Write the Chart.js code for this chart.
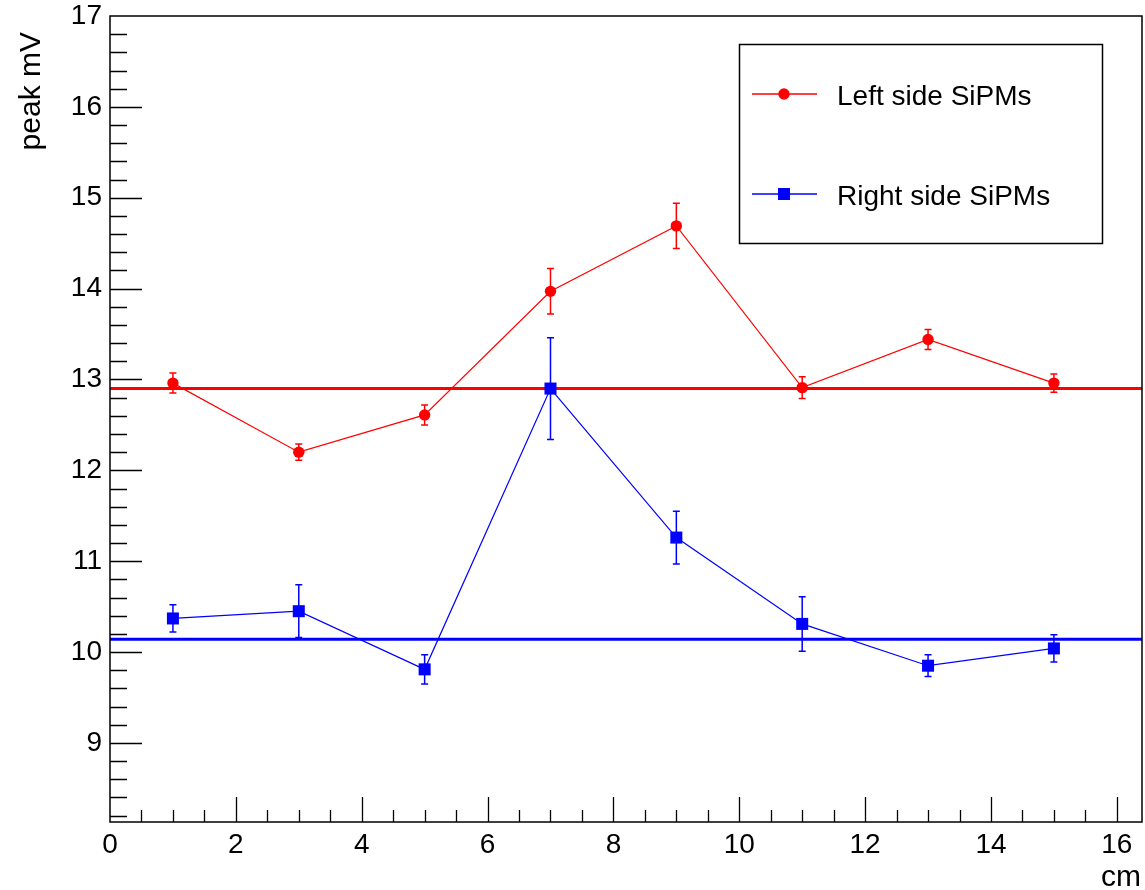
<!DOCTYPE html>
<html>
<head>
<meta charset="utf-8">
<script src="https://cdn.jsdelivr.net/npm/chart.js@4.4.1/dist/chart.umd.min.js"></script>
<style>
html, body { margin: 0; padding: 0; background: #fff; }
</style>
</head>
<body>
<canvas id="canvas1" width="1145" height="890"></canvas>
<script>
// scan positions along the bar (cm)
const positions = [1, 3, 5, 7, 9, 11, 13, 15];

// left side SiPMs: peak amplitude (mV) and its error
const leftPeak = [12.96, 12.20, 12.61, 13.97, 14.69, 12.91, 13.44, 12.96];
const leftErr = [0.11, 0.09, 0.11, 0.25, 0.25, 0.12, 0.11, 0.10];
const leftFit = 12.90;

// right side SiPMs
const rightPeak = [10.37, 10.45, 9.81, 12.90, 11.26, 10.31, 9.85, 10.04];
const rightErr = [0.15, 0.29, 0.16, 0.56, 0.29, 0.30, 0.12, 0.15];
const rightFit = 10.14;

// axis ranges and labelled ticks
const xRange = [0, 16.4];
const yRange = [8.13, 17];
const xTicks = [0, 2, 4, 6, 8, 10, 12, 14, 16];
const yTicks = [9, 10, 11, 12, 13, 14, 15, 16, 17];

const FONT = '"Liberation Sans", Arial, Helvetica, sans-serif';

function points(ys) {
    return positions.map((x, i) => ({x: x, y: ys[i]}));
}

const leftSide = {
    label: 'Left side SiPMs',
    data: points(leftPeak),
    errors: leftErr,
    showLine: true,
    borderColor: 'rgb(255,0,0)',
    backgroundColor: 'rgb(255,0,0)',
    borderWidth: 1.2,
    pointStyle: 'circle',
    pointRadius: 5.7,
    pointBorderWidth: 0,
    order: 1
};

const rightSide = {
    label: 'Right side SiPMs',
    data: points(rightPeak),
    errors: rightErr,
    showLine: true,
    borderColor: 'rgb(0,0,255)',
    backgroundColor: 'rgb(0,0,255)',
    borderWidth: 1.2,
    pointStyle: 'rect',
    pointRadius: 8.5,
    pointBorderWidth: 0,
    order: 0
};

// constant fits, drawn across the whole frame
const leftFitLine = {
    label: 'left fit',
    data: xRange.map(x => ({x: x, y: leftFit})),
    showLine: true,
    borderColor: 'rgb(255,0,0)',
    borderWidth: 3,
    pointRadius: 0,
    order: 3
};

const rightFitLine = {
    label: 'right fit',
    data: xRange.map(x => ({x: x, y: rightFit})),
    showLine: true,
    borderColor: 'rgb(0,0,255)',
    borderWidth: 3,
    pointRadius: 0,
    order: 3
};

// vertical error bars with small caps
const errorBars = {
    id: 'errorBars',
    afterDatasetsDraw(chart) {
        const c = chart.ctx;
        const ys = chart.scales.y;
        chart.data.datasets.forEach((ds, i) => {
            if (!ds.errors) return;
            const meta = chart.getDatasetMeta(i);
            c.save();
            c.strokeStyle = ds.borderColor;
            c.lineWidth = 1.5;
            meta.data.forEach((pt, j) => {
                const v = ds.data[j].y;
                const top = ys.getPixelForValue(v + ds.errors[j]);
                const bot = ys.getPixelForValue(v - ds.errors[j]);
                c.beginPath();
                c.moveTo(pt.x, top);
                c.lineTo(pt.x, bot);
                c.moveTo(pt.x - 3.5, top);
                c.lineTo(pt.x + 3.5, top);
                c.moveTo(pt.x - 3.5, bot);
                c.lineTo(pt.x + 3.5, bot);
                c.stroke();
            });
            c.restore();
        });
    }
};

// frame, inward ticks and axis titles
const frame = {
    id: 'frame',
    afterDraw(chart) {
        const c = chart.ctx;
        const a = chart.chartArea;
        const xs = chart.scales.x;
        const ys = chart.scales.y;
        c.save();
        c.strokeStyle = '#000';
        c.lineWidth = 1.5;
        c.strokeRect(a.left, a.top, a.right - a.left, a.bottom - a.top);

        c.beginPath();
        c.lineWidth = 1.3;
        for (let v = 0.5; v <= xRange[1]; v += 0.5) {
            const px = Math.round(xs.getPixelForValue(v)) + 0.5;
            const len = xTicks.includes(v) ? 25 : 12;
            c.moveTo(px, a.bottom);
            c.lineTo(px, a.bottom - len);
        }
        for (let k = Math.ceil(yRange[0] * 5); k < yRange[1] * 5; k++) {
            const v = k / 5;
            const py = Math.round(ys.getPixelForValue(v)) + 0.5;
            const len = (k % 5 === 0) ? 32 : 17;
            c.moveTo(a.left, py);
            c.lineTo(a.left + len, py);
        }
        c.stroke();

        c.fillStyle = '#000';
        c.font = '30px ' + FONT;
        c.textAlign = 'right';
        c.textBaseline = 'alphabetic';
        c.fillText('cm', a.right - 1, 886);

        c.translate(40, 32);
        c.rotate(-Math.PI / 2);
        c.fillText('peak mV', 0, 0);
        c.restore();
    }
};

// boxed legend in the upper right corner
const rootLegend = {
    id: 'rootLegend',
    afterDraw(chart) {
        const c = chart.ctx;
        c.save();
        c.fillStyle = '#fff';
        c.fillRect(739.5, 44.5, 363, 199);
        c.strokeStyle = '#000';
        c.lineWidth = 1.5;
        c.strokeRect(739.5, 44.5, 363, 199);
        const rows = [[leftSide, 94], [rightSide, 194]];
        rows.forEach(([ds, y]) => {
            c.strokeStyle = ds.borderColor;
            c.lineWidth = 1.5;
            c.beginPath();
            c.moveTo(752, y);
            c.lineTo(817, y);
            c.stroke();
            c.fillStyle = ds.backgroundColor;
            Chart.helpers.drawPoint(c, {
                pointStyle: ds.pointStyle,
                radius: ds.pointRadius,
                rotation: 0,
                borderWidth: 0
            }, 784, y);
            c.fillStyle = '#000';
            c.font = '28px ' + FONT;
            c.textAlign = 'left';
            c.textBaseline = 'alphabetic';
            c.fillText(ds.label, 837, y + 11);
        });
        c.restore();
    }
};

const chartPeaks = new Chart(document.getElementById('canvas1'), {
    type: 'scatter',
    data: {
        datasets: [rightSide, leftSide, leftFitLine, rightFitLine]
    },
    options: {
        responsive: false,
        animation: false,
        layout: {autoPadding: false, padding: {top: 16, right: 3, left: 0, bottom: 0}},
        plugins: {
            legend: {display: false},
            tooltip: {enabled: false}
        },
        scales: {
            x: {
                type: 'linear',
                min: xRange[0],
                max: xRange[1],
                grid: {display: false, drawTicks: false},
                border: {display: false},
                afterBuildTicks: s => { s.ticks = xTicks.map(v => ({value: v})); },
                afterFit: s => {
                    s.height = 68;
                    s.paddingLeft = 0;
                    s.paddingRight = 0;
                },
                ticks: {
                    color: '#000',
                    padding: 6,
                    maxRotation: 0,
                    font: {family: FONT, size: 28}
                }
            },
            y: {
                type: 'linear',
                min: yRange[0],
                max: yRange[1],
                grid: {display: false, drawTicks: false},
                border: {display: false},
                afterBuildTicks: s => { s.ticks = yTicks.map(v => ({value: v})); },
                afterFit: s => {
                    s.width = 110;
                    s.paddingTop = 0;
                    s.paddingBottom = 0;
                },
                ticks: {
                    color: '#000',
                    padding: 8,
                    font: {family: FONT, size: 28}
                }
            }
        }
    },
    plugins: [errorBars, frame, rootLegend]
});
</script>
</body>
</html>
